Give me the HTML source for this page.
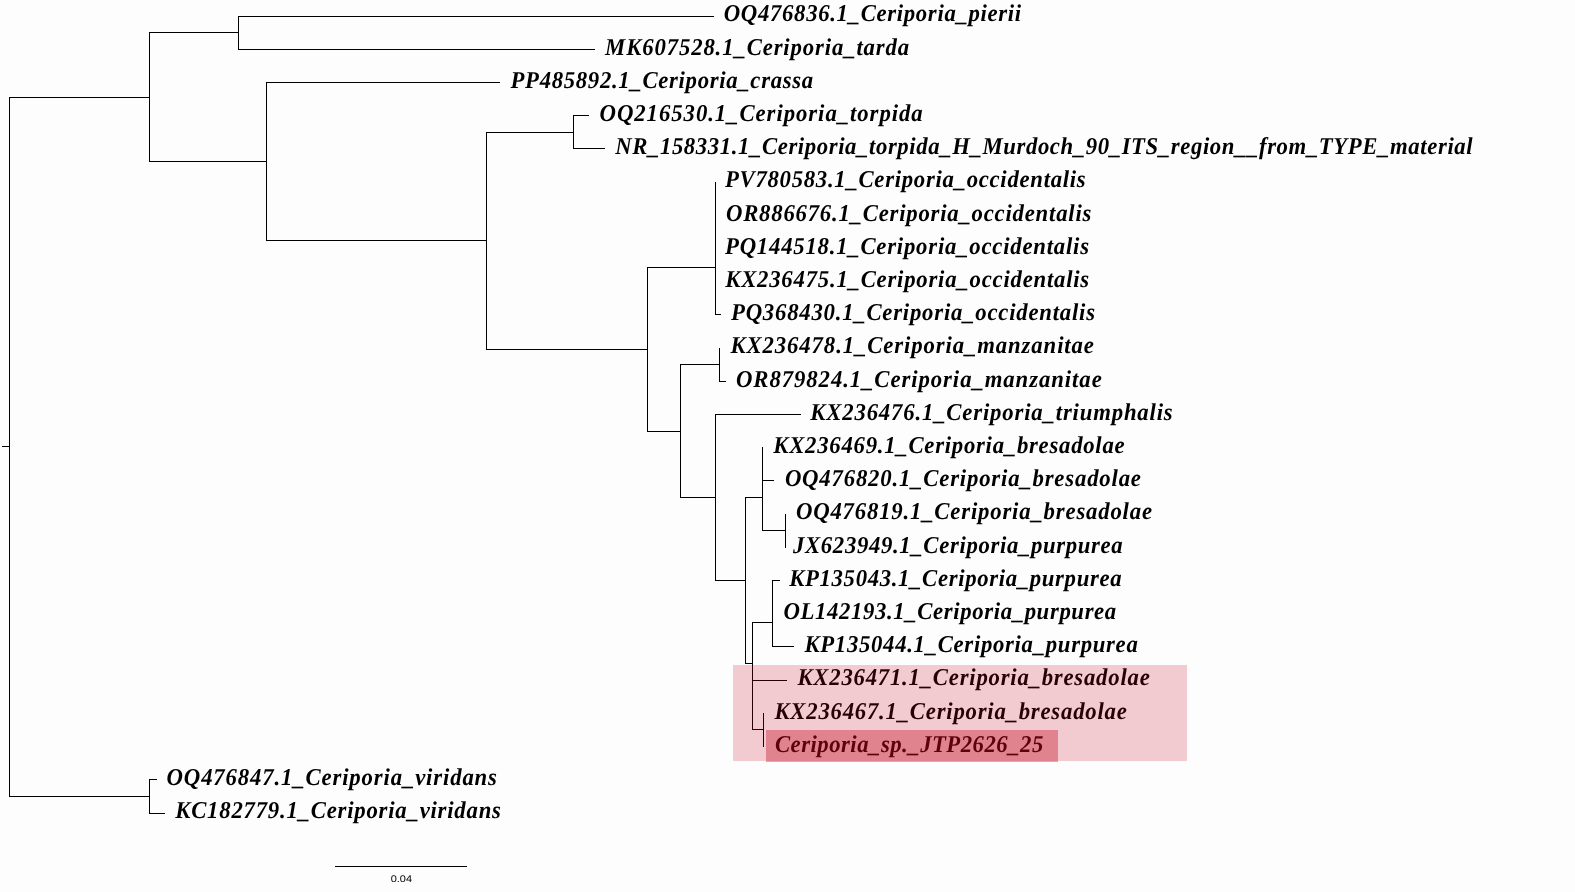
<!DOCTYPE html><html><head><meta charset="utf-8"><style>html,body{margin:0;padding:0;background:#fdfdfd;}svg{display:block;will-change:transform}text{text-rendering:geometricPrecision;font-family:"Liberation Serif",serif;font-weight:bold;font-style:italic;}</style></head><body>
<svg width="1575" height="892" viewBox="0 0 1575 892">
<rect x="0" y="0" width="1575" height="892" fill="#fdfdfd"/>
<g fill="#000" shape-rendering="crispEdges">
<rect x="2" y="446" width="8" height="1"/>
<rect x="9" y="97" width="141" height="1"/>
<rect x="149" y="32" width="90" height="1"/>
<rect x="238" y="16" width="476" height="1"/>
<rect x="238" y="49" width="357" height="1"/>
<rect x="149" y="161" width="118" height="1"/>
<rect x="266" y="82" width="234" height="1"/>
<rect x="266" y="240" width="221" height="1"/>
<rect x="486" y="132" width="88" height="1"/>
<rect x="573" y="115" width="16" height="1"/>
<rect x="573" y="148" width="32" height="1"/>
<rect x="486" y="349" width="162" height="1"/>
<rect x="647" y="267" width="69" height="1"/>
<rect x="715" y="314" width="6" height="1"/>
<rect x="647" y="431" width="34" height="1"/>
<rect x="680" y="364" width="40" height="1"/>
<rect x="719" y="381" width="7" height="1"/>
<rect x="680" y="497" width="36" height="1"/>
<rect x="715" y="414" width="86" height="1"/>
<rect x="715" y="580" width="31" height="1"/>
<rect x="745" y="497" width="18" height="1"/>
<rect x="762" y="480" width="12" height="1"/>
<rect x="762" y="530" width="24" height="1"/>
<rect x="745" y="663" width="8" height="1"/>
<rect x="752" y="622" width="21" height="1"/>
<rect x="772" y="580" width="8" height="1"/>
<rect x="772" y="646" width="22" height="1"/>
<rect x="752" y="680" width="35" height="1"/>
<rect x="752" y="729" width="12" height="1"/>
<rect x="9" y="796" width="141" height="1"/>
<rect x="149" y="779" width="8" height="1"/>
<rect x="149" y="813" width="16" height="1"/>
<rect x="9" y="97" width="1" height="700"/>
<rect x="149" y="32" width="1" height="130"/>
<rect x="238" y="16" width="1" height="34"/>
<rect x="266" y="82" width="1" height="159"/>
<rect x="486" y="132" width="1" height="218"/>
<rect x="573" y="115" width="1" height="34"/>
<rect x="647" y="267" width="1" height="165"/>
<rect x="715" y="182" width="1" height="133"/>
<rect x="680" y="364" width="1" height="134"/>
<rect x="719" y="348" width="1" height="34"/>
<rect x="715" y="414" width="1" height="167"/>
<rect x="745" y="497" width="1" height="167"/>
<rect x="762" y="447" width="1" height="84"/>
<rect x="785" y="514" width="1" height="34"/>
<rect x="752" y="622" width="1" height="108"/>
<rect x="772" y="580" width="1" height="67"/>
<rect x="763" y="713" width="1" height="34"/>
<rect x="149" y="779" width="1" height="35"/>
</g>
<g font-size="24.2" fill="#000">
<text transform="translate(723.79 21.40) scale(0.94 1)" textLength="316.34" lengthAdjust="spacing">OQ476836.1_Ceriporia_pierii</text>
<text transform="translate(605.10 54.60) scale(0.94 1)" textLength="323.46" lengthAdjust="spacing">MK607528.1_Ceriporia_tarda</text>
<text transform="translate(510.50 87.80) scale(0.94 1)" textLength="322.01" lengthAdjust="spacing">PP485892.1_Ceriporia_crassa</text>
<text transform="translate(599.59 121.00) scale(0.94 1)" textLength="343.70" lengthAdjust="spacing">OQ216530.1_Ceriporia_torpida</text>
<text transform="translate(615.20 154.20) scale(0.94 1)" textLength="912.14" lengthAdjust="spacing">NR_158331.1_Ceriporia_torpida_H_Murdoch_90_ITS_region__from_TYPE_material</text>
<text transform="translate(725.00 187.40) scale(0.94 1)" textLength="383.70" lengthAdjust="spacing">PV780583.1_Ceriporia_occidentalis</text>
<text transform="translate(725.98 220.60) scale(0.94 1)" textLength="388.71" lengthAdjust="spacing">OR886676.1_Ceriporia_occidentalis</text>
<text transform="translate(725.00 253.80) scale(0.94 1)" textLength="387.23" lengthAdjust="spacing">PQ144518.1_Ceriporia_occidentalis</text>
<text transform="translate(725.20 287.00) scale(0.94 1)" textLength="387.28" lengthAdjust="spacing">KX236475.1_Ceriporia_occidentalis</text>
<text transform="translate(731.00 320.20) scale(0.94 1)" textLength="387.23" lengthAdjust="spacing">PQ368430.1_Ceriporia_occidentalis</text>
<text transform="translate(730.49 353.40) scale(0.94 1)" textLength="386.63" lengthAdjust="spacing">KX236478.1_Ceriporia_manzanitae</text>
<text transform="translate(735.98 386.60) scale(0.94 1)" textLength="389.11" lengthAdjust="spacing">OR879824.1_Ceriporia_manzanitae</text>
<text transform="translate(810.31 419.80) scale(0.94 1)" textLength="385.56" lengthAdjust="spacing">KX236476.1_Ceriporia_triumphalis</text>
<text transform="translate(773.30 453.00) scale(0.94 1)" textLength="373.78" lengthAdjust="spacing">KX236469.1_Ceriporia_bresadolae</text>
<text transform="translate(784.88 486.20) scale(0.94 1)" textLength="378.78" lengthAdjust="spacing">OQ476820.1_Ceriporia_bresadolae</text>
<text transform="translate(795.98 519.40) scale(0.94 1)" textLength="378.76" lengthAdjust="spacing">OQ476819.1_Ceriporia_bresadolae</text>
<text transform="translate(793.00 552.60) scale(0.94 1)" textLength="350.77" lengthAdjust="spacing">JX623949.1_Ceriporia_purpurea</text>
<text transform="translate(789.20 585.80) scale(0.94 1)" textLength="353.60" lengthAdjust="spacing">KP135043.1_Ceriporia_purpurea</text>
<text transform="translate(783.50 619.00) scale(0.94 1)" textLength="353.95" lengthAdjust="spacing">OL142193.1_Ceriporia_purpurea</text>
<text transform="translate(804.40 652.20) scale(0.94 1)" textLength="354.66" lengthAdjust="spacing">KP135044.1_Ceriporia_purpurea</text>
<text transform="translate(797.39 685.40) scale(0.94 1)" textLength="374.85" lengthAdjust="spacing">KX236471.1_Ceriporia_bresadolae</text>
<text transform="translate(774.39 718.60) scale(0.94 1)" textLength="374.87" lengthAdjust="spacing">KX236467.1_Ceriporia_bresadolae</text>
<text transform="translate(774.91 751.80) scale(0.94 1)" textLength="285.47" lengthAdjust="spacing">Ceriporia_sp._JTP2626_25</text>
<text transform="translate(166.59 785.00) scale(0.94 1)" textLength="351.48" lengthAdjust="spacing">OQ476847.1_Ceriporia_viridans</text>
<text transform="translate(175.20 818.20) scale(0.94 1)" textLength="346.53" lengthAdjust="spacing">KC182779.1_Ceriporia_viridans</text>
</g>
<rect x="335" y="866" width="132" height="1" fill="#000" shape-rendering="crispEdges"/>
<text x="390.7" y="882" font-size="9.7" textLength="21.3" lengthAdjust="spacingAndGlyphs" style="font-family:'Liberation Sans',sans-serif;font-weight:normal;font-style:normal" fill="#000">0.04</text>
<rect x="733" y="665" width="454" height="96" fill="rgb(193,3,28)" fill-opacity="0.2" shape-rendering="crispEdges"/>
<rect x="766" y="730" width="292" height="32" fill="rgb(193,3,28)" fill-opacity="0.36" shape-rendering="crispEdges"/>
</svg></body></html>
